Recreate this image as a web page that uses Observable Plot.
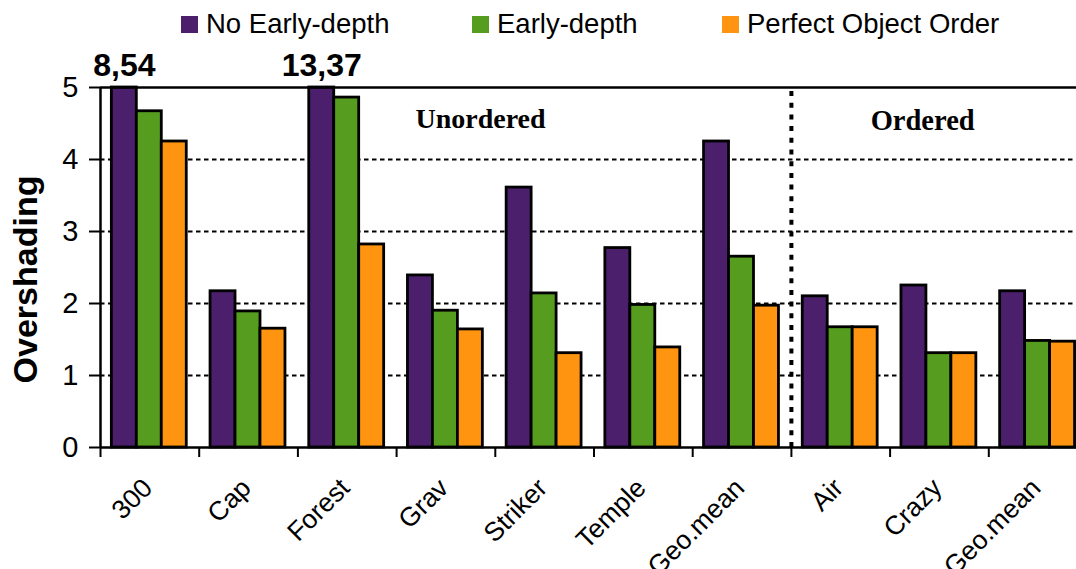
<!DOCTYPE html>
<html><head><meta charset="utf-8">
<script src="https://cdn.jsdelivr.net/npm/d3@7"></script>
<script src="https://cdn.jsdelivr.net/npm/@observablehq/plot@0.6"></script>
<style>
html,body{margin:0;padding:0;background:#fff;overflow:hidden;width:1076px;height:569px;}
body{font-family:"Liberation Sans",Arial,sans-serif;}
#legend{height:40px;position:relative;}
#legend .item{position:absolute;top:0;height:48px;display:flex;align-items:center;font-size:27.5px;color:#000;white-space:nowrap;}
#legend .sw{width:17px;height:17px;margin-right:8px;}
#chart svg{display:block;overflow:visible;max-width:none !important;height:529px !important;}
</style></head><body>
<div id="legend"></div>
<div id="chart"></div>
<script>
// ---- data ----
const groups = ["300","Cap","Forest","Grav","Striker","Temple","Geo.mean","Air","Crazy","Geo.mean"];
const seriesNames = ["No Early-depth","Early-depth","Perfect Object Order"];
const noEarlyDepth   = [8.54, 2.17, 13.37, 2.39, 3.61, 2.77, 4.25, 2.10, 2.25, 2.17];
const earlyDepth     = [4.67, 1.89, 4.86, 1.90, 2.14, 1.98, 2.65, 1.67, 1.31, 1.48];
const perfectOrder   = [4.25, 1.65, 2.82, 1.64, 1.31, 1.39, 1.97, 1.67, 1.31, 1.47];
const seriesColors = ["#4b1f6b","#569d1f","#fe9410"];
const yTicks = [0,1,2,3,4,5];
const sectionLabels = ["Unordered","Ordered"];
const orderedStart = 7; // index of first "Ordered" group
const yMax = 5;

// ---- build table ----
const seriesValues = [noEarlyDepth, earlyDepth, perfectOrder];
const rows = [];
groups.forEach((g, i) => seriesNames.forEach((s, k) => rows.push({i, group: g, series: s, k, value: seriesValues[k][i]})));
const barOff = 0.115, barW = 0.253;
const clipped = rows.filter(d => d.value > yMax);
const fmtComma = v => d3.format(".2f")(v).replace(".", ",");

// ---- legend ----
const legend = document.getElementById("legend");
const legendX = [181, 472, 722];
seriesNames.forEach((s, k) => {
  const it = document.createElement("div");
  it.className = "item";
  it.style.left = legendX[k] + "px";
  it.innerHTML = `<span class="sw" style="background:${seriesColors[k]}"></span><span>${s}</span>`;
  legend.appendChild(it);
});

const font = "Liberation Sans, Arial, sans-serif";
const serif = "Liberation Serif, Times New Roman, serif";
const chart = Plot.plot({
  width: 1087,
  height: 529,
  marginTop: 47,
  marginBottom: 122,
  marginLeft: 100,
  marginRight: 0,
  style: {fontFamily: font, background: "white", color: "#000", maxWidth: "none"},
  x: {type: "linear", domain: [0, groups.length]},
  y: {domain: [0, yMax], clamp: true},
  color: {domain: seriesNames, range: seriesColors},
  marks: [
    Plot.ruleY([1,2,3,4], {stroke: "#000", strokeWidth: 2, strokeDasharray: "4.5,3.5"}),
    Plot.rectY(rows, {
      x1: d => d.i + barOff + d.k * barW,
      x2: d => d.i + barOff + (d.k + 1) * barW,
      y1: 0, y2: "value",
      fill: "series", stroke: "#000", strokeWidth: 2.8
    }),
    Plot.ruleY([yMax], {stroke: "#000", strokeWidth: 2.5}),
    Plot.ruleY([0], {stroke: "#000", strokeWidth: 2.5}),
    Plot.ruleX([0], {stroke: "#000", strokeWidth: 2.5}),
    Plot.ruleX([orderedStart], {y1: 0, y2: yMax, stroke: "#000", strokeWidth: 4, strokeDasharray: "5,6.7"}),
    Plot.axisY({ticks: yTicks, tickSize: 11, tickPadding: 11, fontSize: 29, strokeWidth: 2, tickFormat: d => String(d), label: null}),
    Plot.axisX({ticks: d3.range(groups.length + 1), tickSize: 10, strokeWidth: 2, tickFormat: () => "", label: null}),
    Plot.text(groups, {
      x: (d, i) => i + 0.5, y: 0, text: d => d,
      rotate: -45, textAnchor: "end", lineAnchor: "bottom",
      dx: 4, dy: 42, fontSize: 26.5, fill: "#000"
    }),
    Plot.text(clipped, {
      x: d => d.i + barOff + (d.k + 0.5) * barW, y: yMax,
      text: d => fmtComma(d.value),
      lineAnchor: "bottom", dy: -12, fontSize: 32, fontWeight: "bold", fill: "#000"
    }),
    Plot.text([sectionLabels[0]], {x: 3.85, frameAnchor: "top", lineAnchor: "bottom", dy: 40,
      fontSize: 28, fontWeight: "bold", fontFamily: serif, fill: "#000"}),
    Plot.text([sectionLabels[1]], {x: 8.33, frameAnchor: "top", lineAnchor: "bottom", dy: 42,
      fontSize: 28.5, fontWeight: "bold", fontFamily: serif, fill: "#000"}),
    Plot.text(["Overshading"], {frameAnchor: "left", rotate: -90, textAnchor: "middle", dx: -74, dy: 12,
      fontSize: 34, fontWeight: "bold", fill: "#000"})
  ]
});
document.getElementById("chart").appendChild(chart);
</script>
</body></html>
